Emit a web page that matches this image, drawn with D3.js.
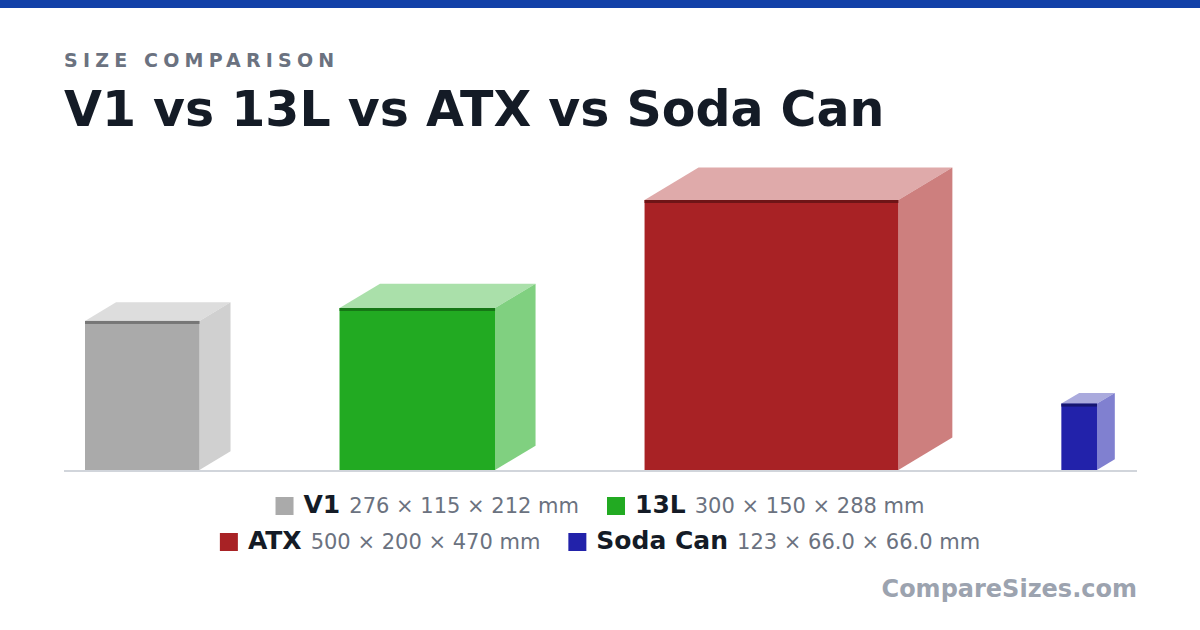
<!DOCTYPE html>
<html><head><meta charset="utf-8">
<script src="https://cdn.jsdelivr.net/npm/d3@7"></script>
<style>body{margin:0;background:#fff;font-family:"DejaVu Sans",sans-serif}</style>
</head><body><svg id="c" width="1200" height="630"></svg>
<script>
const names = ["V1","13L","ATX","Soda Can"];
const heights = [276,300,500,123];
const depths = [115,150,200,66];
const widths = [212,288,470,66];
const dimLabels = ["276 × 115 × 212 mm","300 × 150 × 288 mm","500 × 200 × 470 mm","123 × 66.0 × 66.0 mm"];
const fronts = ["#aaaaaa","#22aa22","#a82225","#2222aa"];
const tops = ["#dddddd","#aae0aa","#dfaaaa","#aaaadd"];
const sides = ["#d0d0d0","#80d080","#cd7f7e","#8080d0"];
const edges = ["#777777","#167716","#6e1517","#161670"];

const svg = d3.select("#c");
svg.append("rect").attr("width",1200).attr("height",8).attr("fill","#1241a8");
svg.append("text").attr("x",64).attr("y",67).attr("fill","#6b7280").attr("font-size",19).attr("font-weight","bold").attr("letter-spacing",5.2).text("SIZE COMPARISON");
svg.append("text").attr("x",64).attr("y",126).attr("fill","#141b26").attr("font-size",49).attr("font-weight","bold").text("V1 vs 13L vs ATX vs Soda Can");

const baseY = 470, s = 0.54;
const y = d3.scaleLinear().domain([0,500]).range([baseY, baseY-500*s]);
const len = d3.scaleLinear().domain([0,1]).range([0,s]);
const pad = 21, gap = 109;
let x = 64+pad;
const g = svg.append("g");
names.forEach((n,i)=>{
  const w = len(widths[i]), dx = len(depths[i])*0.5, dy = len(depths[i])*0.3;
  const top = y(heights[i]);
  g.append("path").attr("d",`M${x},${top}L${x+dx},${top-dy}L${x+w+dx},${top-dy}L${x+w},${top}Z`).attr("fill",tops[i]);
  g.append("path").attr("d",`M${x+w},${top}L${x+w+dx},${top-dy}L${x+w+dx},${baseY-dy}L${x+w},${baseY}Z`).attr("fill",sides[i]);
  g.append("rect").attr("x",x).attr("y",top).attr("width",w).attr("height",baseY-top).attr("fill",fronts[i]);
  g.append("rect").attr("x",x).attr("y",top).attr("width",w).attr("height",3).attr("fill",edges[i]);
  x += w+dx+gap;
});
svg.append("line").attr("x1",64).attr("x2",1137).attr("y1",471).attr("y2",471).attr("stroke","#d1d5db").attr("stroke-width",2);

const rows=[[0,1],[2,3]];
rows.forEach((r,ri)=>{
  const yy = 513+ri*36;
  const lg = svg.append("g");
  let cx=0;
  r.forEach(i=>{
    lg.append("rect").attr("x",cx).attr("y",yy-16).attr("width",18).attr("height",18).attr("fill",fronts[i]);
    const t1=lg.append("text").attr("x",cx+28).attr("y",yy).attr("font-size",25).attr("font-weight","bold").attr("fill","#141b26").text(names[i]);
    const w1=t1.node().getComputedTextLength();
    const t2=lg.append("text").attr("x",cx+28+w1+9).attr("y",yy).attr("font-size",21).attr("fill","#6b7280").text(dimLabels[i]);
    cx += 28+w1+9+t2.node().getComputedTextLength()+28;
  });
  cx-=28;
  lg.attr("transform",`translate(${600-cx/2},0)`);
});
svg.append("text").attr("x",1137).attr("y",597).attr("text-anchor","end").attr("font-size",24).attr("font-weight","bold").attr("fill","#9ca3af").text("CompareSizes.com");
</script></body></html>
